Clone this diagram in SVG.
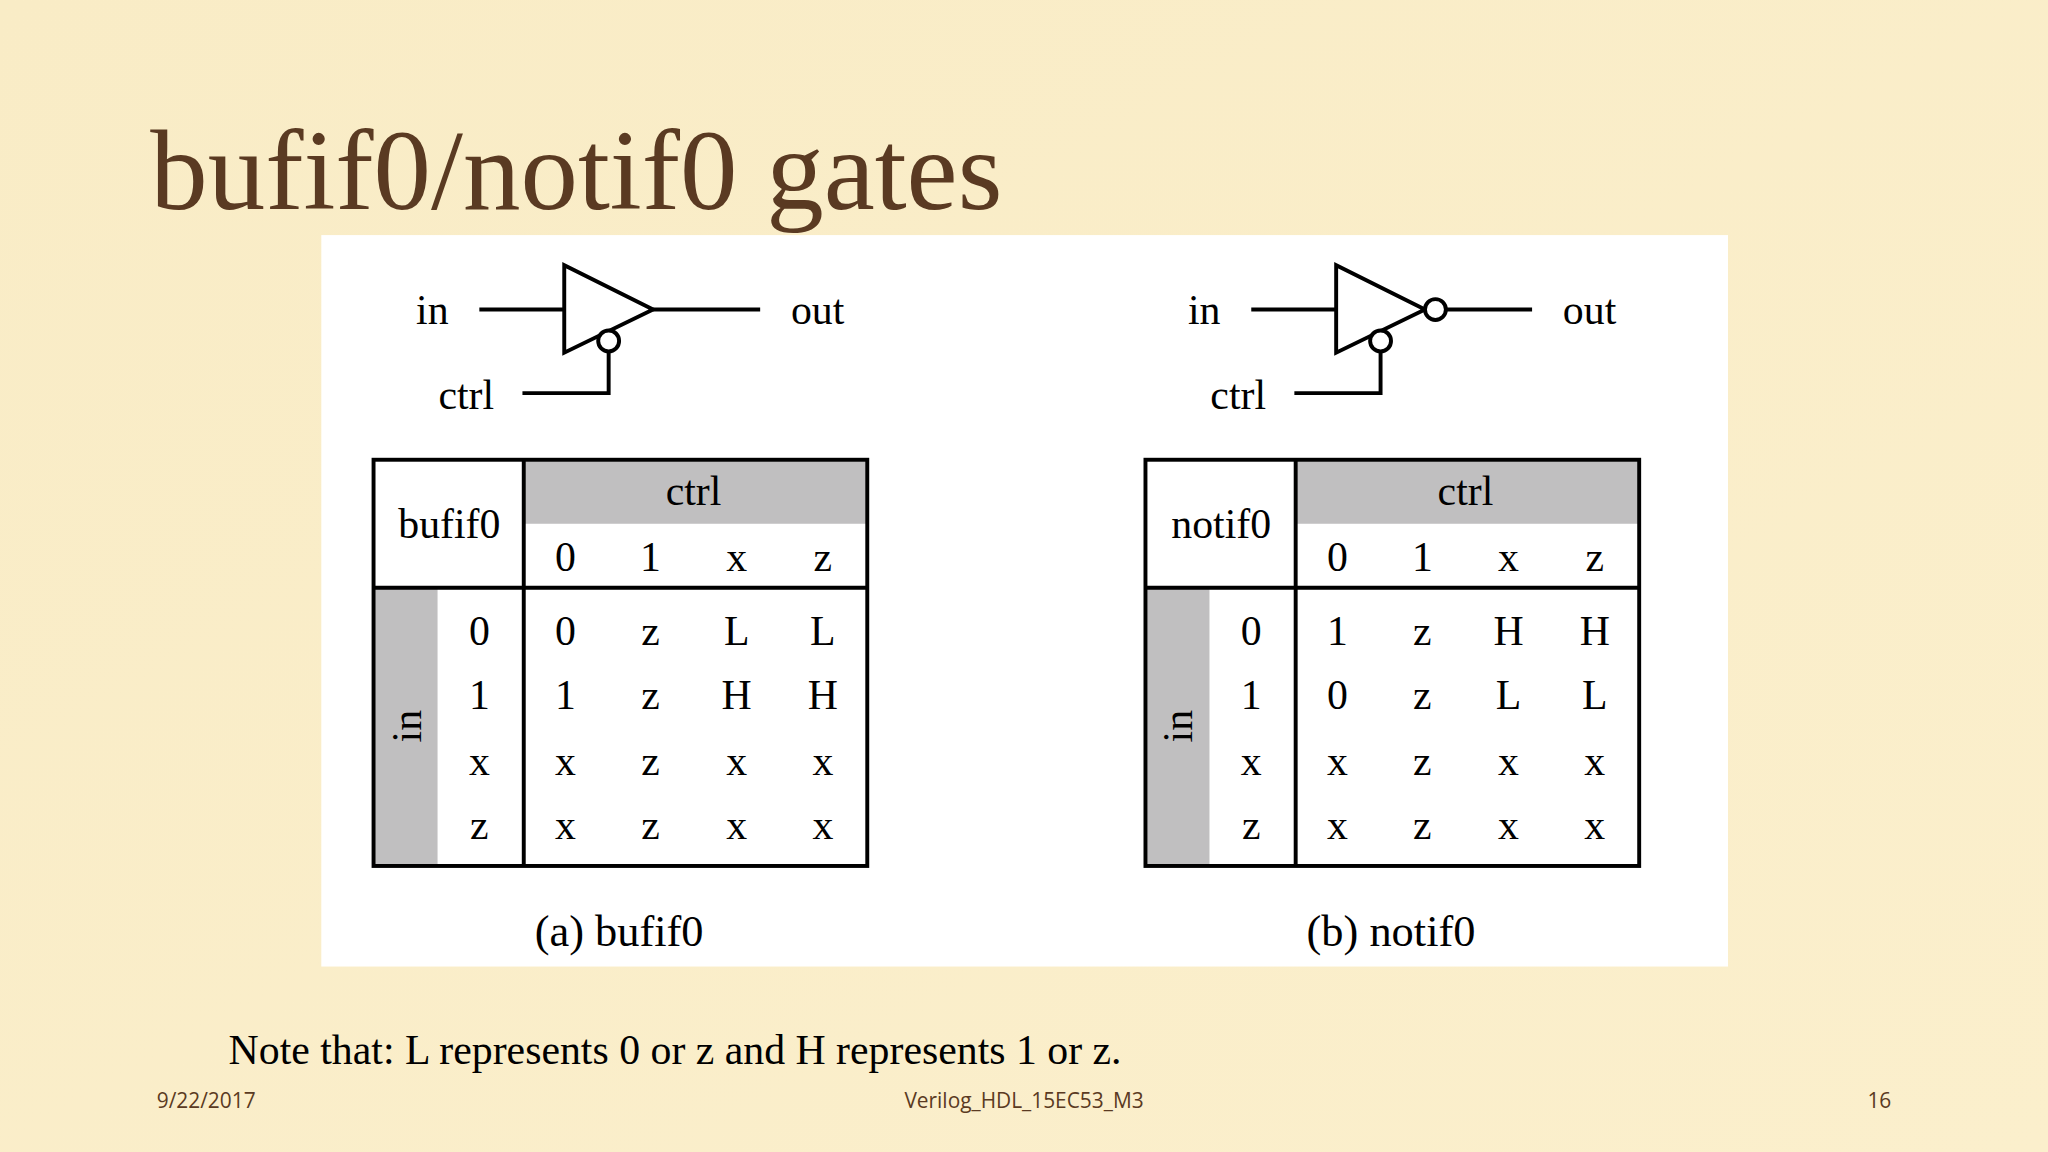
<svg xmlns="http://www.w3.org/2000/svg" width="2048" height="1152" viewBox="0 0 2048 1152">
<defs>
<linearGradient id="bg" x1="0" y1="0" x2="1" y2="1"><stop offset="0" stop-color="#f9ecc6"/><stop offset="1" stop-color="#fbefcc"/></linearGradient>
<style>
.s{font-family:"Liberation Serif",serif;fill:#000}
.t{font-size:32px;text-anchor:middle}
.ln{stroke:#000;stroke-width:3;fill:none}
.bx{stroke:#000;stroke-width:3;fill:none}
.g{fill:#c0bfc0}
.f{font-family:"Open Sans","Liberation Sans",sans-serif;font-size:16px;fill:#5a3a22}
</style>
</defs>
<rect width="2048" height="1152" fill="url(#bg)"/>
<g transform="scale(1.306122)">
<text x="115" y="160" class="s" style="font-size:88px;fill:#5a3a22">bufif0/notif0 gates</text>
<rect x="246" y="180" width="1077" height="560" fill="#fff"/>
<g id="gate-bufif0">
<path class="ln" d="M367 237H432M500 237H582M400 301H466V269"/>
<polygon class="ln" points="432,203 432,270 500,237"/>
<circle cx="466" cy="261" r="8" fill="#fff" stroke="#000" stroke-width="3"/>
<text class="s t" x="331" y="248">in</text><text class="s t" x="626" y="248">out</text><text class="s t" x="357" y="313">ctrl</text>
</g>
<g id="table-bufif0">
<rect class="g" x="401" y="352" width="263" height="49"/><rect class="g" x="286" y="450" width="49" height="213"/>
<rect class="bx" x="286" y="352" width="378" height="311"/>
<path class="ln" d="M401 352V663M286 450H664"/>
<text class="s t" x="531" y="387">ctrl</text><text class="s t" x="344" y="412">bufif0</text>
<text class="s t" transform="translate(322,556) rotate(-90)">in</text>
<g class="s t">
<text x="433" y="437">0</text><text x="498" y="437">1</text><text x="564" y="437">x</text><text x="630" y="437">z</text>
<text x="367" y="494">0</text><text x="433" y="494">0</text><text x="498" y="494">z</text><text x="564" y="494">L</text><text x="630" y="494">L</text>
<text x="367" y="543">1</text><text x="433" y="543">1</text><text x="498" y="543">z</text><text x="564" y="543">H</text><text x="630" y="543">H</text>
<text x="367" y="593">x</text><text x="433" y="593">x</text><text x="498" y="593">z</text><text x="564" y="593">x</text><text x="630" y="593">x</text>
<text x="367" y="642">z</text><text x="433" y="642">x</text><text x="498" y="642">z</text><text x="564" y="642">x</text><text x="630" y="642">x</text>
</g>
<text class="s t" x="474" y="724" style="font-size:34px">(a) bufif0</text>
</g>
<g id="gate-notif0">
<path class="ln" d="M958 237H1023M1107 237H1173M991 301H1057V269"/>
<polygon class="ln" points="1023,203 1023,270 1091,237"/>
<circle cx="1099" cy="237" r="8" fill="#fff" stroke="#000" stroke-width="3"/>
<circle cx="1057" cy="261" r="8" fill="#fff" stroke="#000" stroke-width="3"/>
<text class="s t" x="922" y="248">in</text><text class="s t" x="1217" y="248">out</text><text class="s t" x="948" y="313">ctrl</text>
</g>
<g id="table-notif0" transform="translate(591,0)">
<rect class="g" x="401" y="352" width="263" height="49"/><rect class="g" x="286" y="450" width="49" height="213"/>
<rect class="bx" x="286" y="352" width="378" height="311"/>
<path class="ln" d="M401 352V663M286 450H664"/>
<text class="s t" x="531" y="387">ctrl</text><text class="s t" x="344" y="412">notif0</text>
<text class="s t" transform="translate(322,556) rotate(-90)">in</text>
<g class="s t">
<text x="433" y="437">0</text><text x="498" y="437">1</text><text x="564" y="437">x</text><text x="630" y="437">z</text>
<text x="367" y="494">0</text><text x="433" y="494">1</text><text x="498" y="494">z</text><text x="564" y="494">H</text><text x="630" y="494">H</text>
<text x="367" y="543">1</text><text x="433" y="543">0</text><text x="498" y="543">z</text><text x="564" y="543">L</text><text x="630" y="543">L</text>
<text x="367" y="593">x</text><text x="433" y="593">x</text><text x="498" y="593">z</text><text x="564" y="593">x</text><text x="630" y="593">x</text>
<text x="367" y="642">z</text><text x="433" y="642">x</text><text x="498" y="642">z</text><text x="564" y="642">x</text><text x="630" y="642">x</text>
</g>
<text class="s t" x="474" y="724" style="font-size:34px">(b) notif0</text>
</g>
<text class="s" x="175" y="815" style="font-size:32px">Note that: L represents 0 or z and H represents 1 or z.</text>
<text class="f" x="120" y="848">9/22/2017</text>
<text class="f" x="784" y="848" text-anchor="middle">Verilog_HDL_15EC53_M3</text>
<text class="f" x="1448" y="848" text-anchor="end">16</text>
</g>
</svg>
